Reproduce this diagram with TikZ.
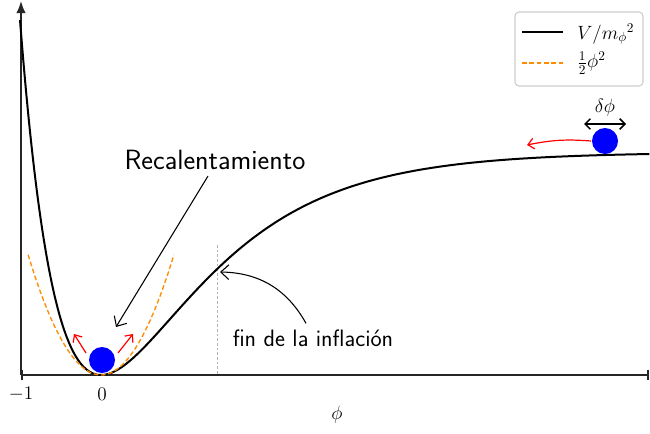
\documentclass[tikz,border=0pt]{standalone}
\usepackage{fontspec}
\usetikzlibrary{arrows.meta}
\definecolor{potorange}{HTML}{FF8C00}
\definecolor{boxgray}{HTML}{CCCCCC}
\begin{document}
\begin{tikzpicture}[x=0.75pt,y=-0.75pt,
  axisline/.style={line width=1.2pt, black!85},
  curveline/.style={line width=1.5pt, black},
  parab/.style={line width=1pt, potorange, dash pattern=on 3.5pt off 2pt},
  ball/.style={circle, fill=blue, minimum size=19.5pt, inner sep=0pt},
  redarr/.style={red, line width=0.9pt, -{Straight Barb[length=4.5pt,width=8pt]}},
  blackarr/.style={black, line width=0.8pt, -{Straight Barb[length=6pt,width=11pt]}},
  mathlbl/.style={font=\fontsize{14.4}{17}\selectfont, inner sep=0pt},
  bigtext/.style={font=\sffamily\fontsize{20.9}{24}\selectfont, inner sep=0pt},
  midtext/.style={font=\sffamily\fontsize{17.8}{20}\selectfont, inner sep=0pt}]
\useasboundingbox (0,0) rectangle (650,433);
% axes
\coordinate (O) at (21,375);
\coordinate (ytop) at (21,1);
\coordinate (xend) at (649,375);
\draw[axisline, -{Latex[length=9pt,width=7pt]}] (O) -- (ytop);
\draw[axisline, {Bar[width=8pt]}-{Bar[width=8pt]}] (O) -- (xend);
% end-of-inflation marker
\coordinate (vtop) at (217,245);
\coordinate (vbot) at (217,375);
\draw[gray!60, line width=0.7pt, dash pattern=on 2pt off 1.5pt] (vtop) -- (vbot);
% curves
\draw[curveline] plot[domain=-1:6.77, samples=220, smooth]
  ({101+81*\x},{375-222.75*(1-exp(-0.8165*\x))*(1-exp(-0.8165*\x))});
\draw[parab] plot[domain=-0.9:0.9, samples=80, smooth]
  ({101+81*\x},{375-148.5*\x*\x});
% tick labels
\node[mathlbl] (tm1) at (21,394) {$-1$};
\node[mathlbl] (t0) at (102,394) {$0$};
\node[mathlbl] (xlab) at (337,415) {$\phi$};
% balls
\node[ball] (b1) at (102,360) {};
\node[ball] (b2) at (605,141) {};
\draw[redarr] ([shift={(-16,-7)}]b1.center) -- ([shift={(-28,-26)}]b1.center);
\draw[redarr] ([shift={(16,-7)}]b1.center) -- ([shift={(31,-26)}]b1.center);
\coordinate (rollend) at (527,145);
\draw[redarr] ([shift={(-14,0)}]b2.center) to[bend right=8] (rollend);
\coordinate (dl) at (584,124);
\coordinate (dr) at (626,124);
\draw[black, line width=1.1pt, {Straight Barb[length=4pt,width=8pt]}-{Straight Barb[length=4pt,width=8pt]}] (dl) -- (dr);
\node[mathlbl] (dphi) at (605,108) {$\delta\phi$};
% annotations
\node[bigtext] (reca) at (215,160) {Recalentamiento};
\coordinate (recend) at (116,327);
\draw[blackarr] ([shift={(-7,6)}]reca.south) -- (recend);
\node[midtext] (fin) at (313,338) {fin de la inflación};
\coordinate (endinf) at (220,272);
\draw[blackarr] ([shift={(-7,-6)}]fin.north) to[bend right=30] (endinf);
% legend
\draw[boxgray, line width=0.8pt, rounded corners=3pt] (515,12) rectangle (643,86);
\coordinate (l1a) at (522,32);
\coordinate (l1b) at (563,32);
\draw[curveline] (l1a) -- (l1b);
\node[mathlbl, anchor=west] (l1) at (577,34) {$V/m_\phi{}^2$};
\coordinate (l2a) at (522,63);
\coordinate (l2b) at (563,63);
\draw[parab] (l2a) -- (l2b);
\node[mathlbl, anchor=west] (l2) at (577,63) {$\frac{1}{2}\phi^2$};
\end{tikzpicture}
\end{document}
